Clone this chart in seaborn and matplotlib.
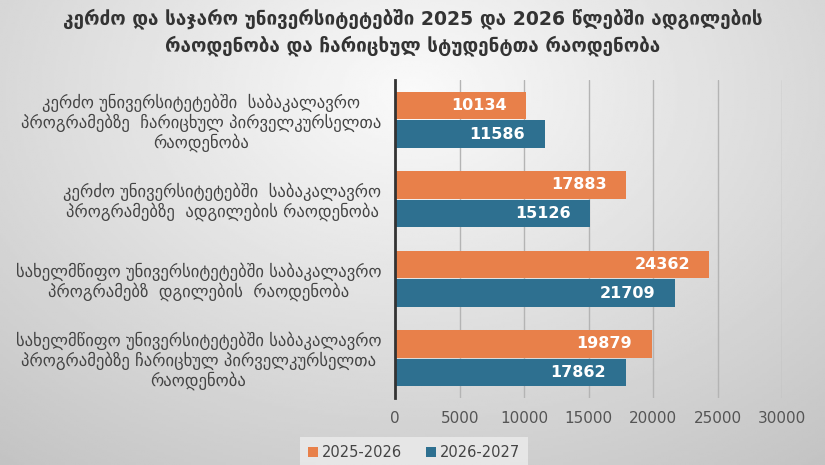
import numpy as np
import pandas as pd
import matplotlib
matplotlib.use("Agg")
import matplotlib.pyplot as plt
import seaborn as sns

categories = [
    "კერძო უნივერსიტეტებში  საბაკალავრო\nპროგრამებზე  ჩარიცხულ პირველკურსელთა\nრაოდენობა",
    "კერძო უნივერსიტეტებში  საბაკალავრო\nპროგრამებზე  ადგილების რაოდენობა",
    "სახელმწიფო უნივერსიტეტებში საბაკალავრო\nპროგრამებზ  დგილების  რაოდენობა",
    "სახელმწიფო უნივერსიტეტებში საბაკალავრო\nპროგრამებზე ჩარიცხულ პირველკურსელთა\nრაოდენობა",
]
years = ["2025-2026", "2026-2027"]
values_2025 = [10134, 17883, 24362, 19879]
values_2026 = [11586, 15126, 21709, 17862]
x_ticks = [0, 5000, 10000, 15000, 20000, 25000, 30000]
title = ("კერძო და საჯარო უნივერსიტეტებში 2025 და 2026 წლებში ადგილების\n"
         "რაოდენობა და ჩარიცხულ სტუდენტთა რაოდენობა")

df = pd.DataFrame({
    "category": categories * 2,
    "year": [years[0]] * 4 + [years[1]] * 4,
    "value": values_2025 + values_2026,
})

sns.set_theme(style="white")
plt.rcParams["font.family"] = ["DejaVu Sans"]

fig = plt.figure(figsize=(8.25, 4.65), dpi=100)

# soft gray gradient background
bg = fig.add_axes([0, 0, 1, 1], zorder=-10)
yy, xx = np.mgrid[0:1:200j, 0:1:360j]
r = np.sqrt(((xx - 0.5) / 0.75) ** 2 + ((yy - 0.2) / 0.95) ** 2)
shade = np.clip(0.98 - 0.2 * r, 0.74, 0.98)
bg.imshow(shade, cmap="gray", vmin=0, vmax=1, aspect="auto",
          extent=[0, 1, 1, 0])
bg.axis("off")

ax = fig.add_axes([0.479, 0.144, 0.469, 0.684])
ax.patch.set_alpha(0)

palette = {years[0]: "#e8804a", years[1]: "#2e7090"}
sns.barplot(data=df, y="category", x="value", hue="year", orient="h",
            palette=palette, width=0.72, gap=0.03, saturation=1,
            edgecolor="none", ax=ax)

for cont in ax.containers:
    ax.bar_label(cont, labels=[f"{int(v)}" for v in cont.datavalues],
                 padding=-54, color="white", fontsize=11.5, fontweight="bold")

ax.set_xlim(0, 30000)
ax.set_xticks(x_ticks)
ax.tick_params(axis="x", length=0, pad=9, labelsize=11, colors="#555555")
ax.tick_params(axis="y", length=0, pad=10, labelsize=12, colors="#444444")
for lab in ax.get_yticklabels():
    lab.set_multialignment("center")
    lab.set_linespacing(1.1)
ax.xaxis.grid(True, color="#b4b4b4", linewidth=1)
ax.set_axisbelow(True)
for side in ["top", "right", "bottom"]:
    ax.spines[side].set_visible(False)
ax.spines["left"].set_color("#333333")
ax.spines["left"].set_linewidth(2)
ax.set_xlabel("")
ax.set_ylabel("")

leg = ax.legend(loc="lower center", bbox_to_anchor=(0.502, -0.02),
                bbox_transform=fig.transFigure, ncol=2, frameon=True,
                fontsize=10.5, handlelength=0.7, handleheight=0.7,
                handletextpad=0.3, columnspacing=1.6, borderpad=0.5)
leg.get_frame().set_facecolor("#ececec")
leg.get_frame().set_edgecolor("none")
leg.get_frame().set_alpha(0.8)
leg.get_frame().set_boxstyle("square", pad=0.0)
for t in leg.get_texts():
    t.set_color("#444444")

fig.text(0.5, 0.982, title, ha="center", va="top", fontsize=13.6,
         fontweight="bold", color="#333333", linespacing=1.4)

fig.savefig("out.png", dpi=100)
